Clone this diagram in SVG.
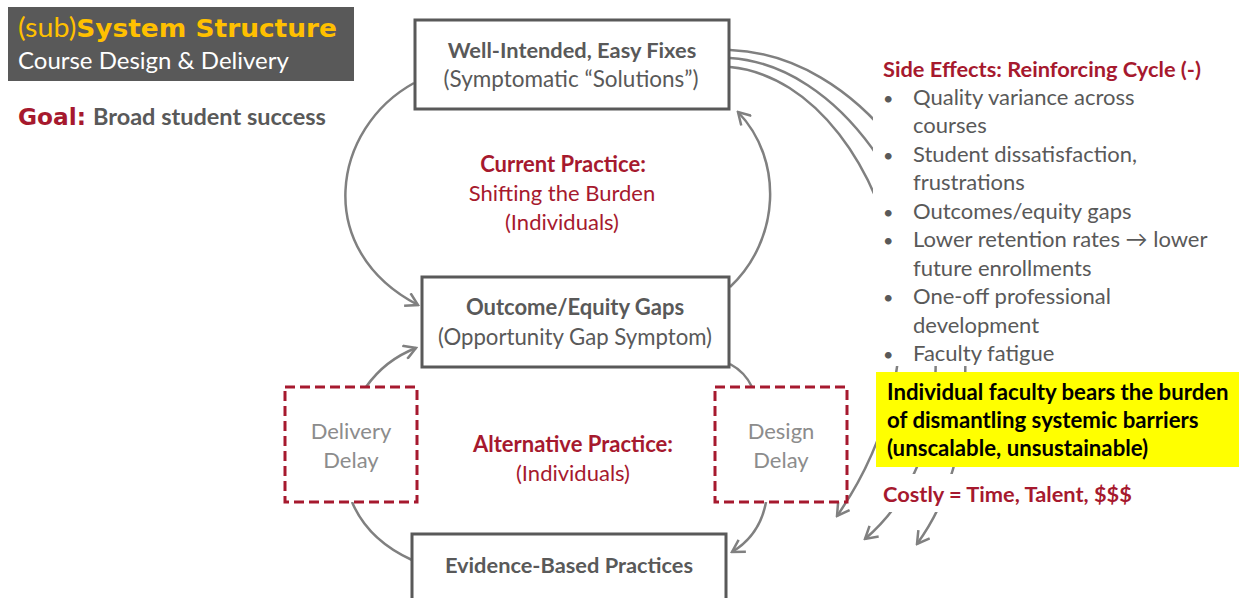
<svg xmlns="http://www.w3.org/2000/svg" width="1239" height="598" viewBox="0 0 1239 598">
<style>
.t{font-family:Lato,"Open Sans","Liberation Sans",sans-serif;}
.b{font-weight:bold;}
.gray{fill:#595959;}
.lg{fill:#8c8c8c;}
.red{fill:#A6192E;}
.box{fill:#fff;stroke:#595959;stroke-width:3;}
.dash{fill:#fff;stroke:#A6192E;stroke-width:3;stroke-dasharray:10 5;}
.c{fill:none;stroke:#808080;stroke-width:2.5;}
.ca{fill:none;stroke:#808080;stroke-width:2.5;marker-end:url(#ah);}
</style>
<defs>
<marker id="ah" markerUnits="userSpaceOnUse" markerWidth="16" markerHeight="16" viewBox="0 0 16 16" refX="14" refY="8" orient="auto">
<path d="M2,1 L14,8 L2,15" fill="none" stroke="#808080" stroke-width="2.5"/>
</marker>
</defs>
<rect width="1239" height="598" fill="#fff"/>

<g id="title">
<rect x="8" y="7" width="346" height="74" fill="#595959"/>
<text class="t" x="18" y="37" font-size="26" fill="#FFC000" textLength="319" lengthAdjust="spacingAndGlyphs">(sub)<tspan font-family="'DejaVu Sans',sans-serif" font-weight="bold" font-size="24">System Structure</tspan></text>
<text class="t" x="18" y="69" font-size="24" fill="#fff">Course Design &amp; Delivery</text>
</g>
<g id="goal">
<text class="red" x="18" y="125" font-size="23" font-weight="bold" font-family="'DejaVu Sans',sans-serif" textLength="68" lengthAdjust="spacingAndGlyphs">Goal:</text>
<text class="t b gray" x="93" y="125" font-size="23.5">Broad student success</text>
</g>

<g id="connectors">
<path class="ca" d="M414,83 C332,128 312,250 418,305"/>
<path class="ca" d="M730,287 C780,240 784,160 738,112"/>
<path class="ca" d="M366,387 Q385,360 416,348"/>
<path class="c" d="M412,560 Q368,540 352,502"/>
<path class="c" d="M730,364 Q745,372 752,387"/>
<path class="ca" d="M766,502 Q760,535 732,552"/>
<path class="ca" d="M730,67 C815,75 880,170 897,270 C910,350 890,440 837,516"/>
<path class="ca" d="M730,58 C840,65 930,200 935,330 C940,420 922,490 865,539"/>
<path class="ca" d="M730,50 C860,55 960,200 965,330 C968,430 956,490 917,544"/>
</g>

<g id="well-intended">
<rect class="box" x="415" y="20" width="314" height="89"/>
<text class="t b gray" x="572" y="58" font-size="21.8" text-anchor="middle">Well-Intended, Easy Fixes</text>
<text class="t gray" x="571" y="87" font-size="22.5" text-anchor="middle">(Symptomatic “Solutions”)</text>
</g>
<g id="current-practice">
<text class="t b red" x="563" y="172" font-size="22" text-anchor="middle">Current Practice:</text>
<text class="t red" x="562" y="201" font-size="22" text-anchor="middle">Shifting the Burden</text>
<text class="t red" x="562" y="230" font-size="22" text-anchor="middle">(Individuals)</text>
</g>
<g id="outcome">
<rect class="box" x="422" y="277" width="307" height="90"/>
<text class="t b gray" x="575" y="315" font-size="22" text-anchor="middle">Outcome/Equity Gaps</text>
<text class="t gray" x="575" y="345" font-size="22.2" text-anchor="middle">(Opportunity Gap Symptom)</text>
</g>
<g id="delivery-delay">
<rect class="dash" x="285" y="387" width="132" height="115"/>
<text class="t lg" x="351" y="439" font-size="22" text-anchor="middle">Delivery</text>
<text class="t lg" x="351" y="468" font-size="22" text-anchor="middle">Delay</text>
</g>
<g id="design-delay">
<rect class="dash" x="715" y="387" width="132" height="115"/>
<text class="t lg" x="781" y="439" font-size="22" text-anchor="middle">Design</text>
<text class="t lg" x="781" y="468" font-size="22" text-anchor="middle">Delay</text>
</g>
<g id="alternative-practice">
<text class="t b red" x="573" y="452" font-size="22" text-anchor="middle">Alternative Practice:</text>
<text class="t red" x="573" y="481" font-size="22" text-anchor="middle">(Individuals)</text>
</g>
<g id="evidence">
<rect class="box" x="412" y="534" width="314" height="70"/>
<text class="t b gray" x="569" y="573" font-size="21.8" text-anchor="middle">Evidence-Based Practices</text>
</g>

<g id="side-effects">
<rect x="873" y="52" width="366" height="314" fill="#fff"/>
<text class="t b red" x="883" y="77" font-size="21.8">Side Effects: Reinforcing Cycle (-)</text>
<g class="t gray" font-size="22">
<text x="883" y="105" font-size="18">•</text><text x="913" y="105">Quality variance across</text>
<text x="913" y="133">courses</text>
<text x="883" y="162" font-size="18">•</text><text x="913" y="162">Student dissatisfaction,</text>
<text x="913" y="190">frustrations</text>
<text x="883" y="219" font-size="18">•</text><text x="913" y="219">Outcomes/equity gaps</text>
<text x="883" y="247" font-size="18">•</text><text x="913" y="247">Lower retention rates → lower</text>
<text x="913" y="276">future enrollments</text>
<text x="883" y="304" font-size="18">•</text><text x="913" y="304">One-off professional</text>
<text x="913" y="333">development</text>
<text x="883" y="361" font-size="18">•</text><text x="913" y="361">Faculty fatigue</text>
</g>
</g>
<g id="burden-note">
<rect x="876" y="372" width="363" height="95" fill="#FFFF00"/>
<g class="t b" font-size="22.2" fill="#000">
<text x="887" y="400">Individual faculty bears the burden</text>
<text x="887" y="428">of dismantling systemic barriers</text>
<text x="887" y="456">(unscalable, unsustainable)</text>
</g>
</g>
<g id="costly">
<rect x="868" y="474" width="265" height="38" fill="#fff"/>
<text class="t b red" x="883" y="502" font-size="21.8">Costly = Time, Talent, $$$</text>
</g>
</svg>
